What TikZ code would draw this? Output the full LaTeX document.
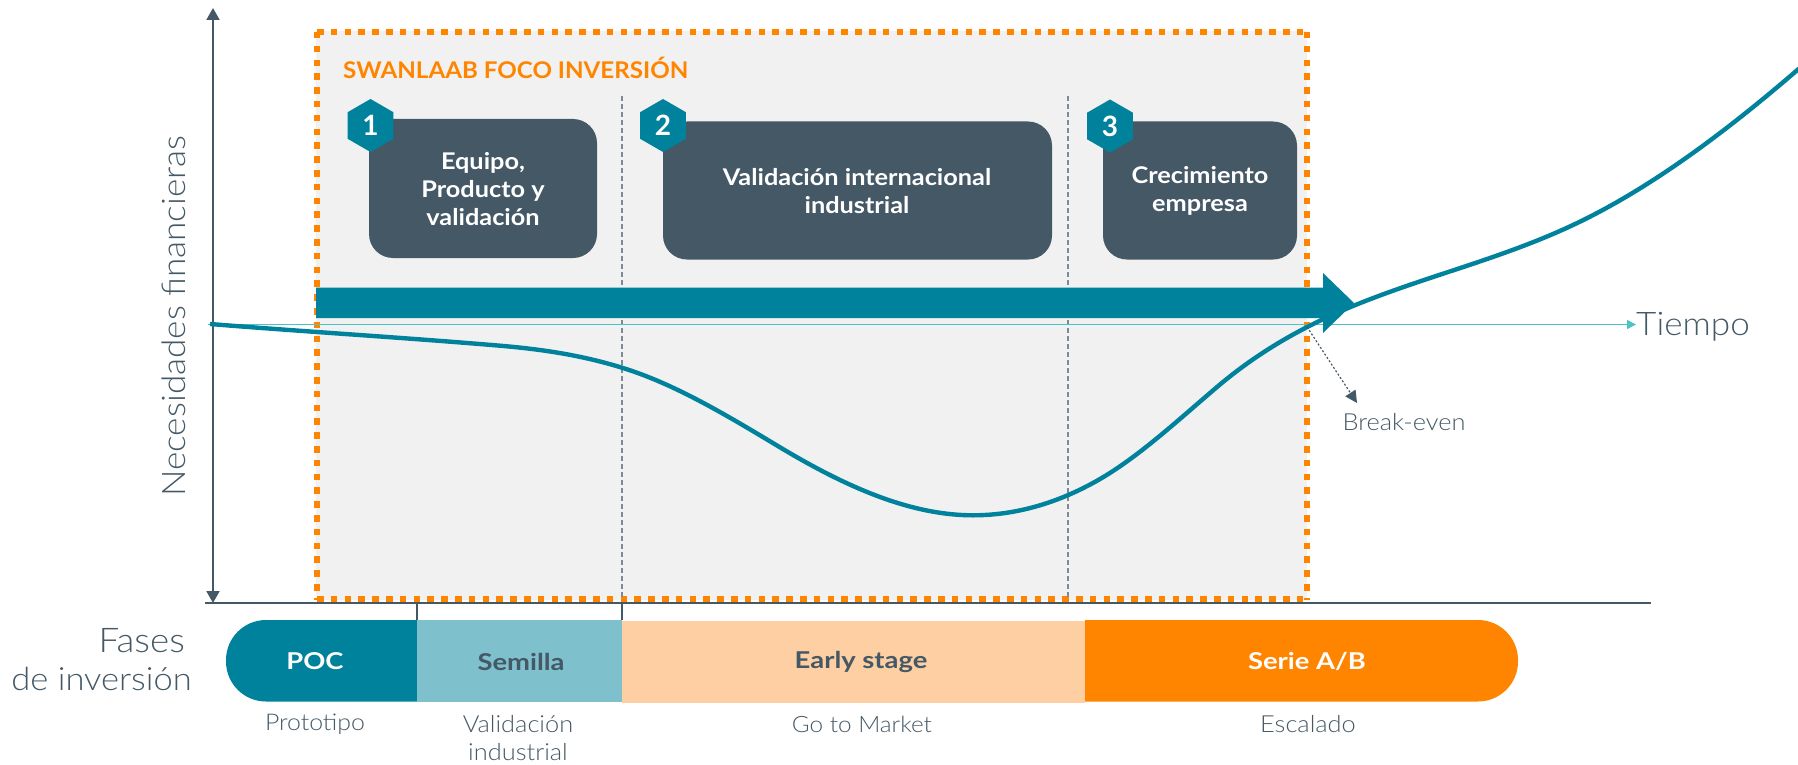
\documentclass[tikz,border=0pt]{standalone}
\usepackage{fontspec}
\setmainfont{Lato}
\newfontfamily\lightf[FakeStretch=1.08]{Lato Light}
\newfontfamily\barf[FakeStretch=1.18]{Lato}
\newfontfamily\cardf[FakeStretch=1.1]{Lato}
\newfontfamily\titlef[FakeStretch=1.05]{Lato}
\usetikzlibrary{arrows.meta,shapes.geometric}
\definecolor{teal1}{HTML}{00829C}
\definecolor{slate}{HTML}{445866}
\definecolor{cyanl}{HTML}{4CC4C6}
\definecolor{orng}{HTML}{FF8500}
\definecolor{grayb}{HTML}{F1F1F1}
\definecolor{semi}{HTML}{7FC0CD}
\definecolor{peach}{HTML}{FDCFA3}
\definecolor{dashg}{HTML}{7A8A97}
\tikzset{
  cardbox/.style={fill=slate,rounded corners=24pt,draw=none},
  hexb/.style={regular polygon,regular polygon sides=6,regular polygon rotate=30,minimum size=53pt,inner sep=0pt,fill=teal1,text=white,font=\fontsize{28}{28}\selectfont\bfseries},
  cardtxt/.style={text=white,align=center,font=\cardf\fontsize{23}{28}\selectfont\bfseries,inner sep=0pt},
  light/.style={text=slate,inner sep=0pt,font=\lightf\fontsize{#1}{#1}\selectfont},
  barlab/.style={inner sep=0pt,font=\barf\fontsize{23.2}{23.2}\selectfont\bfseries},
  orangedots/.style={draw=orng,line width=5.8pt,dash pattern=on 6.5pt off 7.3pt},
  vdash/.style={draw=dashg,line width=1.2pt,dash pattern=on 5pt off 3pt},
  axisline/.style={draw=slate,line width=2pt},
  axisarrow/.style={axisline,{Triangle[length=12pt,width=13pt]}-{Triangle[length=12pt,width=13pt]}},
}
\begin{document}
\begin{tikzpicture}[x=1pt,y=-1pt]
\useasboundingbox (0,0) rectangle (1798,765);
% focus area
\fill[grayb] (316,31) rectangle (1307,600);
\draw[orangedots] (317,32) -- (1307,32);
\draw[orangedots] (317,32) -- (317,600);
\draw[orangedots] (1307,32) -- (1307,600);
\draw[orangedots] (317,599) -- (1307,599);
\node[text=orng,anchor=west,inner sep=0pt,font=\titlef\fontsize{23}{23}\selectfont\bfseries] (title) at (343,68) {SWANLAAB FOCO INVERSIÓN};
% stage separators
\coordinate (s1t) at (622,96); \coordinate (s1b) at (622,600);
\coordinate (s2t) at (1068,96); \coordinate (s2b) at (1068,600);
\draw[vdash] (s1t) -- (s1b);
\draw[vdash] (s2t) -- (s2b);
% cards
\fill[cardbox] (369,119) rectangle (597,258);
\fill[cardbox] (663,121.5) rectangle (1052,259.5);
\fill[cardbox] (1103,121.5) rectangle (1297,259.5);
\node[hexb] (h1) at (370.5,125.5) {1};
\node[hexb] (h2) at (663,125.5) {2};
\node[hexb] (h3) at (1110,126) {3};
\node[cardtxt] (c1) at (483,189.5) {Equipo,\\Producto y\\validación};
\node[cardtxt] (c2) at (857,191) {Validación internacional\\industrial};
\node[cardtxt] (c3) at (1200,191) {Crecimiento\\empresa};
% axes
\coordinate (yt) at (213,8); \coordinate (yb) at (213,603);
\coordinate (xl) at (205,602.5); \coordinate (xr) at (1651,602.5);
\draw[axisarrow] (yt) -- (yb);
\draw[axisline] (xl) -- (xr);
\coordinate (t1) at (417,603); \coordinate (t1b) at (417,620);
\coordinate (t2) at (622,603); \coordinate (t2b) at (622,620);
\draw[axisline] (t1) -- (t1b);
\draw[axisline] (t2) -- (t2b);
% time line
\node[light=32.5,anchor=west] (tiempo) at (1636,327) {Tiempo};
\coordinate (tl) at (208,324.5);
\draw[cyanl,line width=1.5pt,-{Triangle[length=9pt,width=9pt]}] (tl) -- (tiempo.west |- tl);
% thick arrow
\fill[teal1] (316,287.5) -- (1323,287.5) -- (1323,273) -- (1354,303) -- (1323,333) -- (1323,318) -- (316,318) -- cycle;
% curve
\draw[teal1,line width=4.4pt] (210,324)
  .. controls (307,331.8) and (403,337.5) .. (500,345.7)
  .. controls (541,349.2) and (581,355) .. (622,367.7)
  .. controls (675,384) and (727,415.5) .. (780,447.3)
  .. controls (844,485.7) and (909,515.3) .. (973,515.3)
  .. controls (1015,515.3) and (1058,503.4) .. (1100,479)
  .. controls (1139,456.4) and (1178,420.2) .. (1217,387)
  .. controls (1262,348.8) and (1308,324.5) .. (1353,306)
  .. controls (1426,276) and (1500,259.3) .. (1573,225)
  .. controls (1649,189.3) and (1726,132) .. (1802,66);
% break-even
\node[light=23.5] (be) at (1404,422) {Break-even};
\coordinate (bes) at (1307,327); \coordinate (bee) at (1357,403);
\draw[slate,line width=1.2pt,dash pattern=on 2pt off 2pt,-{Triangle[length=12pt,width=12pt]}] (bes) -- (bee);
% y label
\node[light=32.5,rotate=90] (ylab) at (174,316) {Necesidades financieras};
% phases
\fill[teal1] (417,620) [rounded corners=40pt] -- (226,620) -- (226,701.5) [sharp corners] -- (417,701.5) -- cycle;
\fill[semi] (417,620) rectangle (622,701.5);
\fill[peach] (622,621) rectangle (1085,702.5);
\fill[orng] (1085,620) [rounded corners=40pt] -- (1518,620) -- (1518,701.5) [sharp corners] -- (1085,701.5) -- cycle;
\node[barlab,text=white] (poc) at (315,661.5) {POC};
\node[barlab,text=slate] (sem) at (521,661.5) {Semilla};
\node[barlab,text=slate] (early) at (861,661.5) {Early stage};
\node[barlab,text=white] (serie) at (1307,661.5) {Serie A/B};
\node[light=23] (l1) at (315,724) {Prototipo};
\node[light=23.5] (l2a) at (518,724) {Validación};
\node[light=23.5] (l2b) at (518,752) {industrial};
\node[light=22.5] (l3) at (862,724) {Go to Market};
\node[light=23.5] (l4) at (1308,724) {Escalado};
\node[light=34,anchor=east] (f1) at (185,641) {Fases};
\node[light=32,anchor=east] (f2) at (192,679) {de inversión};
\end{tikzpicture}
\end{document}
